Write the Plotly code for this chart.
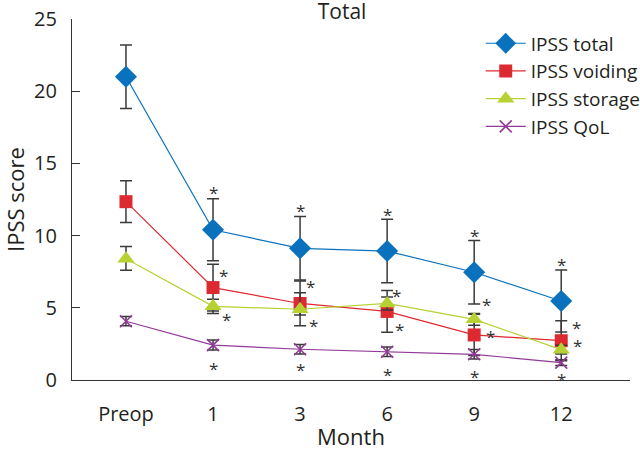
import plotly.graph_objects as go

months = ["Preop", "1", "3", "6", "9", "12"]
x_idx = [0, 1, 2, 3, 4, 5]

total = [21.0, 10.4, 9.12, 8.93, 7.46, 5.47]
total_sd = [2.2, 2.15, 2.2, 2.2, 2.2, 2.15]

voiding = [12.35, 6.4, 5.3, 4.75, 3.12, 2.72]
voiding_sd = [1.45, 1.62, 1.55, 1.45, 1.43, 1.39]

storage = [8.4, 5.1, 4.9, 5.3, 4.2, 2.1]
storage_sd_plus = [0.85, 0.5, 1.15, 0.45, 0.4, 0.3]
storage_sd_minus = [0.8, 0.5, 0.4, 0.45, 0.4, 0.3]

qol = [4.07, 2.42, 2.13, 1.96, 1.78, 1.2]
qol_sd = [0.32, 0.35, 0.33, 0.33, 0.33, 0.2]

# significance asterisks: category index, y value, horizontal pixel offset
ast_x = [1, 1, 1, 1, 2, 2, 2, 2, 3, 3, 3, 3, 4, 4, 4, 4, 5, 5, 5, 5]
ast_y = [13.27, 7.5, 4.5, 1.04, 12.05, 6.74, 4.04, 1.0, 11.73, 6.16, 3.76, 0.64,
         10.27, 5.49, 3.3, 0.53, 8.26, 3.93, 2.65, 0.3]
ast_dx = [0, 10, 13, 0, 0, 10, 13, 0, 0, 9, 12, 0, 0, 12, 16, 0, 0, 15, 16, 0]

FONT = "Open Sans"
TXT = "#231f20"
ERR = "#3a3a3a"

fig = go.Figure()

def add(name, y, color, symbol, size, err, errm=None, lw=1.2, mline=None):
    ey = dict(type="data", array=err, visible=True, color=ERR, thickness=1.5, width=6)
    if errm is not None:
        ey["symmetric"] = False
        ey["arrayminus"] = errm
    marker = dict(symbol=symbol, size=size, color=color)
    if mline:
        marker["line"] = dict(color=color, width=mline)
    fig.add_trace(go.Scatter(
        x=x_idx, y=y, name=name, mode="lines+markers",
        line=dict(color=color, width=lw), marker=marker,
        error_y=ey, legendgroup=name,
    ))

add("IPSS total", total, "#0a72bd", "diamond", 17, total_sd)
add("IPSS voiding", voiding, "#dd2a30", "square", 13, voiding_sd)
add("IPSS storage", storage, "#b7d133", "triangle-up", 15, storage_sd_plus, storage_sd_minus)
add("IPSS QoL", qol, "#923a98", "x-thin", 12, qol_sd, mline=1.6)

for xi, yi, dx in zip(ast_x, ast_y, ast_dx):
    fig.add_annotation(x=xi, y=yi, text="*", showarrow=False, xshift=dx, yshift=-4,
                       font=dict(family=FONT, size=17, color="#333333"),
                       xanchor="center", yanchor="middle")

fig.update_layout(
    width=640, height=451,
    margin=dict(l=72, r=10, t=19, b=71, autoexpand=False),
    paper_bgcolor="white", plot_bgcolor="white",
    font=dict(family=FONT, color=TXT, size=20),
    title=dict(text="Total", x=0.484, xref="paper", xanchor="center",
               y=1 - 12 / 451, yref="container", yanchor="middle", automargin=False,
               font=dict(family=FONT, size=21, color=TXT)),
    showlegend=True,
    legend=dict(x=0.7325, y=0.985, xanchor="left", yanchor="top", itemwidth=40,
                font=dict(family=FONT, size=19, color=TXT),
                bgcolor="rgba(0,0,0,0)", traceorder="grouped", tracegroupgap=0),
)
fig.update_xaxes(
    range=[-0.62, 5.79], tickmode="array", tickvals=x_idx, ticktext=months,
    showline=True, linecolor="#333333", linewidth=1.3, ticks="", showgrid=False,
    zeroline=False, tickfont=dict(family=FONT, size=20, color=TXT),
    ticklabelstandoff=16, automargin=False,
    title=dict(text="Month", font=dict(family=FONT, size=22, color=TXT), standoff=13),
)
fig.update_yaxes(
    range=[0, 25], dtick=5, tick0=0, showline=True, linecolor="#333333", linewidth=1.3,
    ticks="inside", ticklen=8, tickcolor="#333333", tickwidth=1.3, showgrid=False,
    zeroline=False, tickfont=dict(family=FONT, size=20, color=TXT),
    ticklabelstandoff=10, automargin=False,
    title=dict(text="IPSS score", font=dict(family=FONT, size=22, color=TXT), standoff=12),
)

fig.write_html("out.html", config={"displayModeBar": False},
               post_script="document.body.style.margin='0px';")
